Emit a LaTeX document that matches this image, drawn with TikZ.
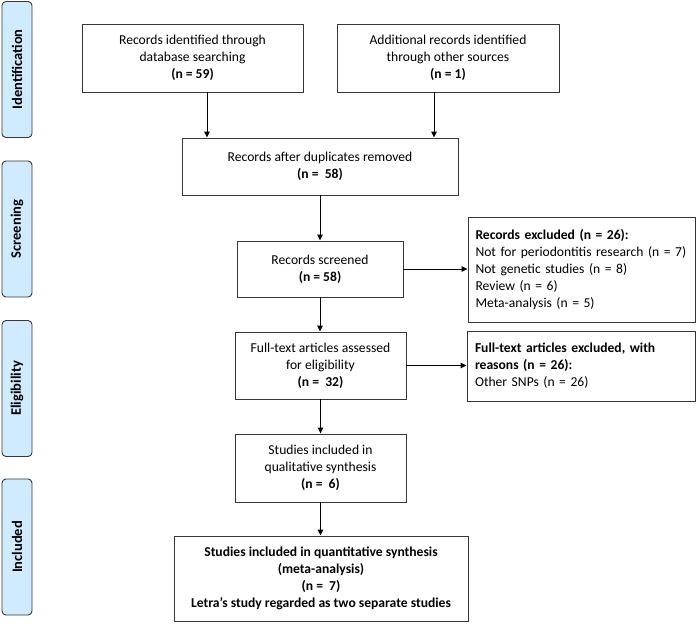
\documentclass[tikz,border=0pt]{standalone}
\usepackage{fontspec}
\setmainfont{Carlito}
\usetikzlibrary{arrows.meta}
\definecolor{phase}{RGB}{207,235,253}
\definecolor{edge}{RGB}{55,55,55}
\tikzset{
  box/.style={draw=edge, line width=0.9pt, fill=white, inner sep=0pt, align=center,
              font=\fontsize{13.6}{17}\selectfont},
  lbox/.style={draw=edge, line width=0.9pt, fill=white, inner sep=0pt, align=left,
              font=\fontsize{13.6}{17}\selectfont},
  phasebox/.style={draw=edge, line width=0.9pt, fill=phase, rounded corners=4pt,
              minimum width=136pt, minimum height=30pt, inner sep=0pt, rotate=90,
              font=\fontsize{14.5}{16}\selectfont\bfseries},
  arr/.style={draw=black, line width=1pt, -{Triangle[length=6pt,width=5.5pt]}}
}
\begin{document}
\begin{tikzpicture}[x=1pt,y=-1pt]
\useasboundingbox (0,0) rectangle (697,629);
% phase labels
\node[phasebox] (pid) at (17,69.5) {Identification};
\node[phasebox] (psc) at (17,229) {Screening};
\node[phasebox] (pel) at (17,388.5) {Eligibility};
\node[phasebox] (pin) at (17,547) {Included};
% boxes
\node[box, minimum width=221pt, minimum height=68pt] (b1) at (192.5,58)
  {Records identified through\\database searching\\\textbf{(n = 59)}};
\node[box, minimum width=222pt, minimum height=68pt] (b2) at (448,58)
  {Additional records identified\\through other sources\\\textbf{(n = 1)}};
\node[box, minimum width=276pt, minimum height=57pt] (b3) at (320,166.5)
  {Records after duplicates removed\\\textbf{(n = \ 58)}};
\node[box, minimum width=166pt, minimum height=56pt] (b4) at (320,269)
  {Records screened\\\textbf{(n = 58)}};
\node[lbox, minimum width=227pt, minimum height=105pt, text width=212pt] (b5) at (581.5,269.5)
  {\textbf{Records excluded (n = 26):}\\Not for periodontitis research (n = 7)\\Not genetic studies (n = 8)\\Review (n = 6)\\Meta-analysis (n = 5)};
\node[box, minimum width=171pt, minimum height=67pt] (b6) at (320.5,365.5)
  {Full-text articles assessed\\for eligibility\\\textbf{(n = \ 32)}};
\node[lbox, minimum width=228pt, minimum height=70pt, text width=212pt] (b7) at (581,366)
  {\textbf{Full-text articles excluded, with}\\\textbf{reasons (n = 26):}\\Other SNPs (n = 26)};
\node[box, minimum width=171pt, minimum height=68pt] (b8) at (320.5,468)
  {Studies included in\\qualitative synthesis\\\textbf{(n = \ 6)}};
\node[box, minimum width=294pt, minimum height=85pt, font=\fontsize{13.6}{17}\selectfont\bfseries] (b9) at (321,578.5)
  {Studies included in quantitative synthesis\\(meta-analysis)\\(n = \ 7)\\Letra’s study regarded as two separate studies};
% connectors
\draw[arr] ([xshift=14.5pt]b1.south) -- ([xshift=14.5pt]b1.south |- b3.north);
\draw[arr] ([xshift=-14pt]b2.south) -- ([xshift=-14pt]b2.south |- b3.north);
\draw[arr] (b3.south) -- (b3.south |- b4.north);
\draw[arr] (b4.east) -- (b4.east -| b5.west);
\draw[arr] (b4.south) -- (b4.south |- b6.north);
\draw[arr] (b6.east) -- (b6.east -| b7.west);
\draw[arr] (b6.south) -- (b6.south |- b8.north);
\draw[arr] (b8.south) -- (b8.south |- b9.north);
\end{tikzpicture}
\end{document}
